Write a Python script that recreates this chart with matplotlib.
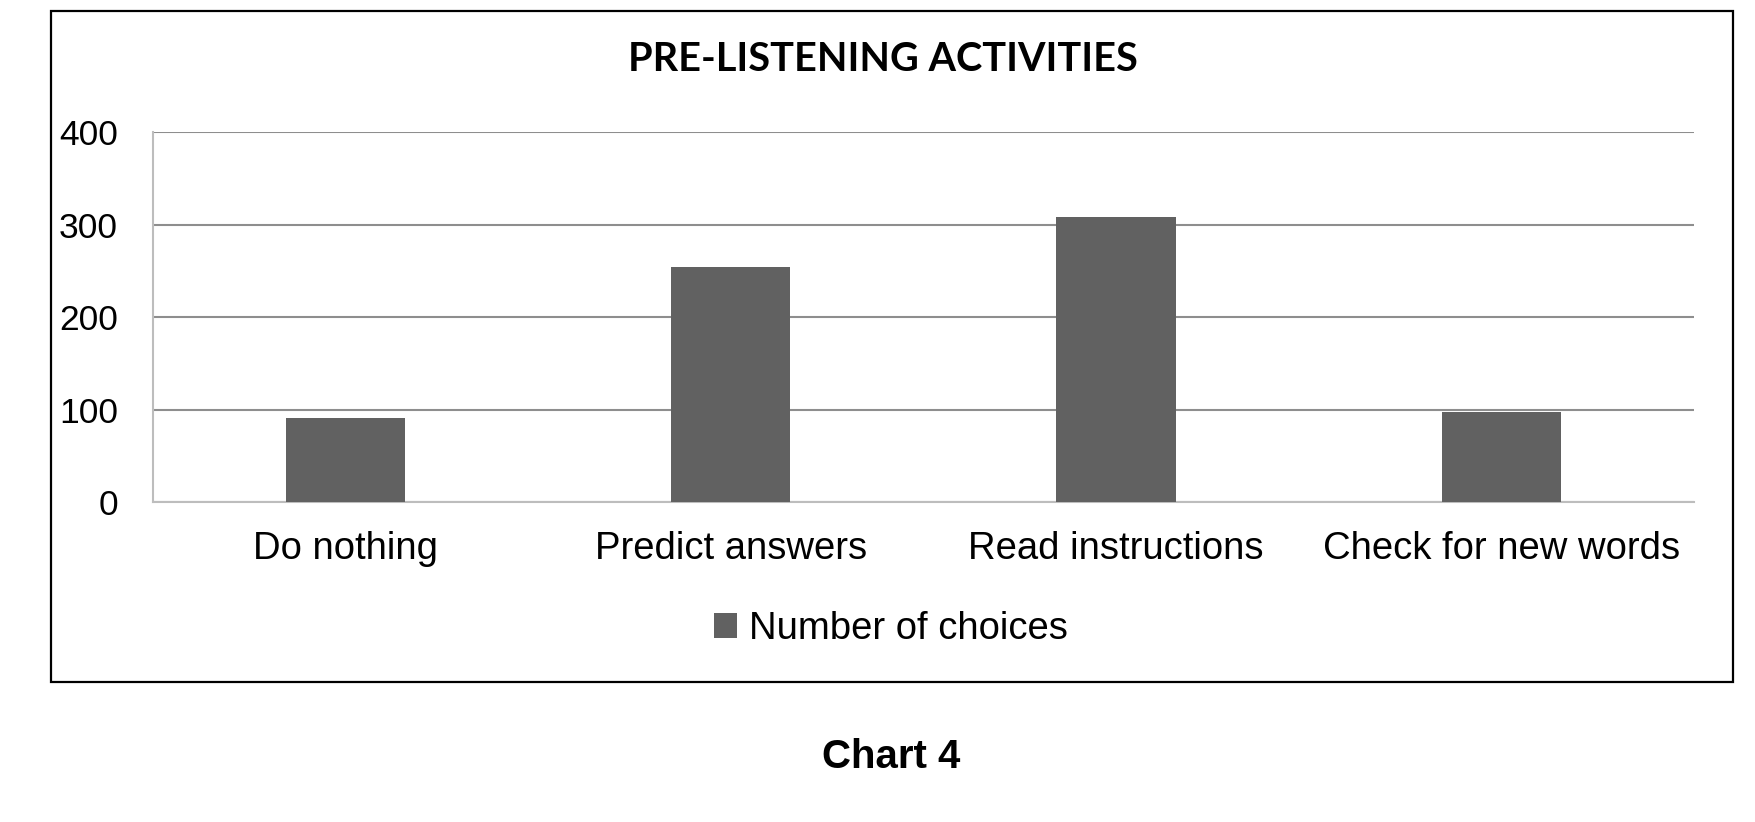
import matplotlib
matplotlib.use("Agg")
import matplotlib.pyplot as plt
from matplotlib.patches import Rectangle

# values
categories = ["Do nothing", "Predict answers", "Read instructions", "Check for new words"]
choices = [91, 254, 308, 98]
yticks = [0, 100, 200, 300, 400]

BAR = "#616161"
GRID = "#8e8e8e"

plt.rcParams["font.family"] = ["Liberation Sans", "DejaVu Sans"]

fig = plt.figure(figsize=(17.55, 8.22), dpi=100)
fig.patch.set_facecolor("white")

# outer frame around the chart area
fig.patches.append(Rectangle((0.0289, 0.1703), 0.9584, 0.8163, transform=fig.transFigure,
                             fill=False, edgecolor="black", linewidth=1.6, zorder=0))

ax = fig.add_axes([0.0870, 0.3889, 0.8782, 0.4505])
x = range(len(categories))
bars = ax.bar(x, choices, width=0.31, color=BAR, label="Number of choices", zorder=3)

ax.set_xlim(-0.5, len(categories) - 0.5)
ax.set_ylim(0, 400)
ax.set_yticks(yticks)
ax.set_xticks(list(x))
ax.set_xticklabels(categories)
ax.yaxis.grid(True, color=GRID, linewidth=1.5, zorder=0)
ax.set_axisbelow(True)

for side in ("top", "right"):
    ax.spines[side].set_visible(False)
ax.spines["left"].set_color("#bdbdbd")
ax.spines["left"].set_linewidth(1.5)
ax.spines["bottom"].set_color("#bdbdbd")
ax.spines["bottom"].set_linewidth(1.5)

ax.tick_params(axis="y", length=0, pad=25, labelsize=25.5)
ax.tick_params(axis="x", length=0, pad=21, labelsize=27.5)

fig.text(0.503, 0.928, "PRE-LISTENING ACTIVITIES", ha="center", va="center",
         fontsize=28.5, fontweight="bold", family=["Lato", "DejaVu Sans"])

ax.legend(handles=[bars], loc="center", bbox_to_anchor=(0.5077, 0.2348),
          bbox_transform=fig.transFigure, frameon=False, fontsize=27.5,
          handlelength=0.6, handleheight=0.6, handletextpad=0.3, borderpad=0)

fig.text(0.508, 0.079, "Chart 4", ha="center", va="center", fontsize=29, fontweight="bold")

fig.savefig("out.png", dpi=100)
